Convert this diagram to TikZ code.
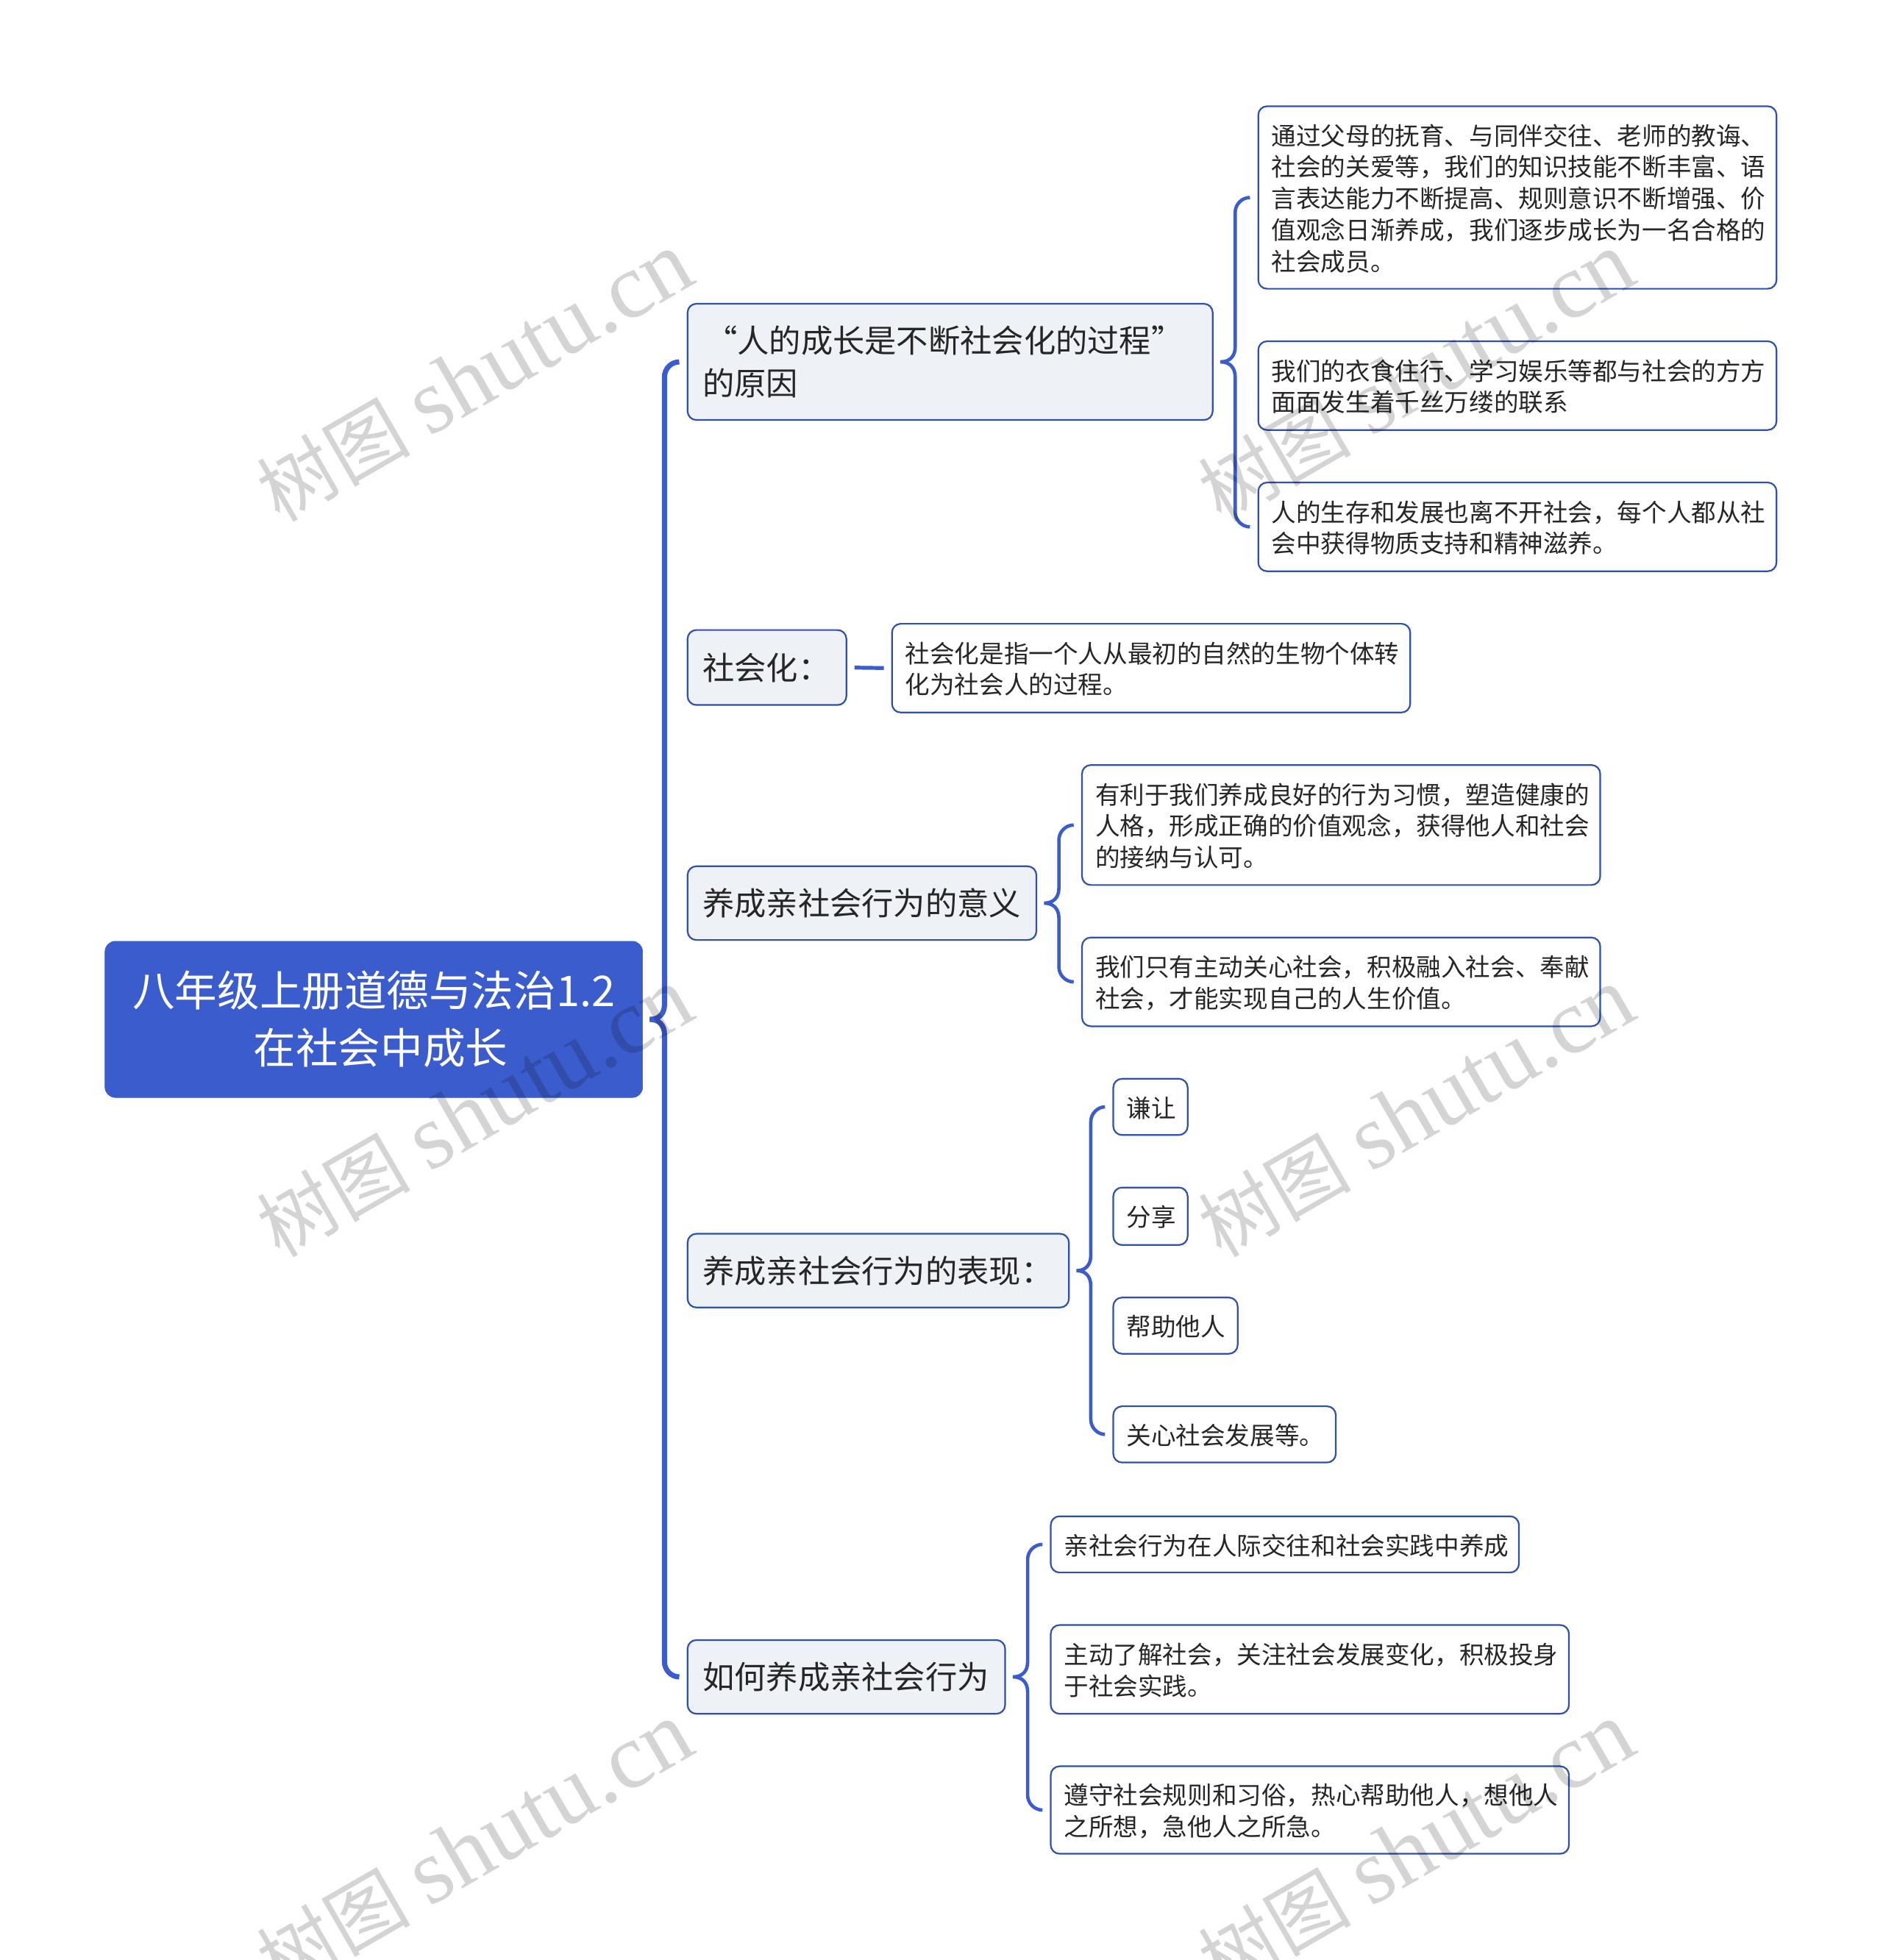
\documentclass[tikz,border=0pt]{standalone}
\usepackage{fontspec}
\setmainfont{Noto Sans CJK SC}
\newfontfamily\wmlatin{Liberation Serif}
\newfontfamily\wmcjk{Noto Sans CJK SC}
\usetikzlibrary{calc}
\definecolor{mainblue}{HTML}{3B5CCC}
\definecolor{edgeblue}{HTML}{2F50AC}
\definecolor{softfill}{HTML}{EEF1F6}
\definecolor{inkdark}{HTML}{262626}
\tikzset{
  rootnode/.style={rounded corners=7pt,fill=mainblue,draw=mainblue,line width=0.3pt,text=white,align=center,inner ysep=0pt,
    font=\fontsize{28.8}{39}\selectfont,/utils/exec={\def\mypad{10pt}},inner xsep=10pt},
  topicnode/.style={rounded corners=6pt,fill=softfill,draw=edgeblue,line width=1.1pt,text=inkdark,align=left,inner ysep=0pt,
    font=\fontsize{21.65}{29}\selectfont,/utils/exec={\def\mypad{10.2pt}},inner xsep=10.2pt},
  leafnode/.style={rounded corners=6pt,fill=white,draw=edgeblue,line width=1.1pt,text=inkdark,align=left,inner ysep=0pt,
    font=\fontsize{16.8}{21.4}\selectfont,/utils/exec={\def\mypad{9pt}},inner xsep=9pt,
    execute at begin node={\rule{0pt}{16.2pt}},execute at end node={\rule[-2.1pt]{0pt}{0pt}}},
  mainlink/.style={draw=mainblue,line width=3.5pt},
  sublink/.style={draw=mainblue,line width=2.3pt},
  straightlink/.style={draw=mainblue,line width=2.6pt,shorten <=5pt,shorten >=5pt},
  wmark/.style={rotate=30,text=black,opacity=0.17,inner sep=0pt},
}
\newcommand{\mapnode}[7]{%
  \pgfmathsetmacro{\bw}{(#5-#3)*0.85}\pgfmathsetmacro{\bh}{(#6-#4)*0.85}%
  \node[#1,minimum width=\bw pt,minimum height=\bh pt,text width={\bw pt-2*\mypad}] (#2) at ({(#3+#5)/2},{(#4+#6)/2}) {#7};}
\newcommand{\cbrace}[4]{%
  \draw[#1] let \p0=($(#2.east)+(5.5,0)$), \p1=($(#3.west)+(-6,0)$), \p2=($(#4.west)+(-6,0)$),
    \n1={0.5*(\x0+\x1)} in
    (\x1,\y1) .. controls ({\n1+4.6pt},\y1) and (\n1,{\y1-4.6pt}) .. (\n1,{\y1-10.2pt})
    -- (\n1,{\y0+10.2pt}) .. controls (\n1,{\y0+4pt}) and ({\n1-3.5pt},\y0) .. (\x0,\y0)
    .. controls ({\n1-3.5pt},\y0) and (\n1,{\y0-4pt}) .. (\n1,{\y0-10.2pt})
    -- (\n1,{\y2+10.2pt}) .. controls (\n1,{\y2+4.6pt}) and ({\n1+4.6pt},\y2) .. (\x2,\y2);}
\newcommand{\wmtext}{{\wmcjk\fontsize{52}{60}\selectfont 树图}\hspace{13pt}{\wmlatin\fontsize{63}{70}\selectfont shutu.cn}}
\begin{document}
\begin{tikzpicture}[x=0.84993pt,y=-0.84993pt]
\useasboundingbox (0,0) rectangle (1506,1568);
\fill[white] (0,0) rectangle (1506,1568);
\mapnode{rootnode}{root}{84}{753}{514}{878}{八年级上册道德与法治1.2\\\hspace*{9.4pt}在社会中成长}
\mapnode{topicnode}{ta}{550}{243}{970}{336}{\hspace*{2pt}“人的成长是不断社会化的过程”\\的原因}
\mapnode{topicnode}{tb}{550}{504}{677}{564}{社会化：}
\mapnode{topicnode}{tc}{550}{693}{829}{752}{养成亲社会行为的意义}
\mapnode{topicnode}{td}{550}{987}{855}{1046}{养成亲社会行为的表现：}
\mapnode{topicnode}{te}{550}{1312}{804}{1371}{如何养成亲社会行为}
\mapnode{leafnode}{a1}{1006.5}{85}{1421}{231}{通过父母的抚育、与同伴交往、老师的教诲、\\社会的关爱等，我们的知识技能不断丰富、语\\言表达能力不断提高、规则意识不断增强、价\\值观念日渐养成，我们逐步成长为一名合格的\\社会成员。}
\mapnode{leafnode}{a2}{1006.5}{273}{1421}{344}{我们的衣食住行、学习娱乐等都与社会的方方\\面面发生着千丝万缕的联系}
\mapnode{leafnode}{a3}{1006.5}{386}{1421}{457}{人的生存和发展也离不开社会，每个人都从社\\会中获得物质支持和精神滋养。}
\mapnode{leafnode}{b1}{713.5}{499}{1128}{570}{社会化是指一个人从最初的自然的生物个体转\\化为社会人的过程。}
\mapnode{leafnode}{c1}{865.5}{612}{1280}{708}{有利于我们养成良好的行为习惯，塑造健康的\\人格，形成正确的价值观念，获得他人和社会\\的接纳与认可。}
\mapnode{leafnode}{c2}{865.5}{750}{1280}{821}{我们只有主动关心社会，积极融入社会、奉献\\社会，才能实现自己的人生价值。}
\mapnode{leafnode}{d1}{890.5}{863}{950}{908}{谦让}
\mapnode{leafnode}{d2}{890.5}{950}{950}{996}{分享}
\mapnode{leafnode}{d3}{890.5}{1038}{990}{1083}{帮助他人}
\mapnode{leafnode}{d4}{890.5}{1125}{1068.5}{1170}{关心社会发展等。}
\mapnode{leafnode}{e1}{840.5}{1213}{1215}{1258}{亲社会行为在人际交往和社会实践中养成}
\mapnode{leafnode}{e2}{840.5}{1300}{1255}{1371}{主动了解社会，关注社会发展变化，积极投身\\于社会实践。}
\mapnode{leafnode}{e3}{840.5}{1413}{1255}{1483}{遵守社会规则和习俗，热心帮助他人，想他人\\之所想，急他人之所急。}
\cbrace{mainlink}{root}{ta}{te}
\cbrace{sublink}{ta}{a1}{a3}
\cbrace{sublink}{tc}{c1}{c2}
\cbrace{sublink}{td}{d1}{d4}
\cbrace{sublink}{te}{e1}{e3}
\draw[straightlink] (tb.east) -- (b1.west);
\node[wmark] (w1) at (380,302) {\wmtext};
\node[wmark] (w2) at (380,890) {\wmtext};
\node[wmark] (w3) at (380,1478) {\wmtext};
\node[wmark] (w4) at (1133,302) {\wmtext};
\node[wmark] (w5) at (1133,890) {\wmtext};
\node[wmark] (w6) at (1133,1478) {\wmtext};
\end{tikzpicture}
\end{document}
